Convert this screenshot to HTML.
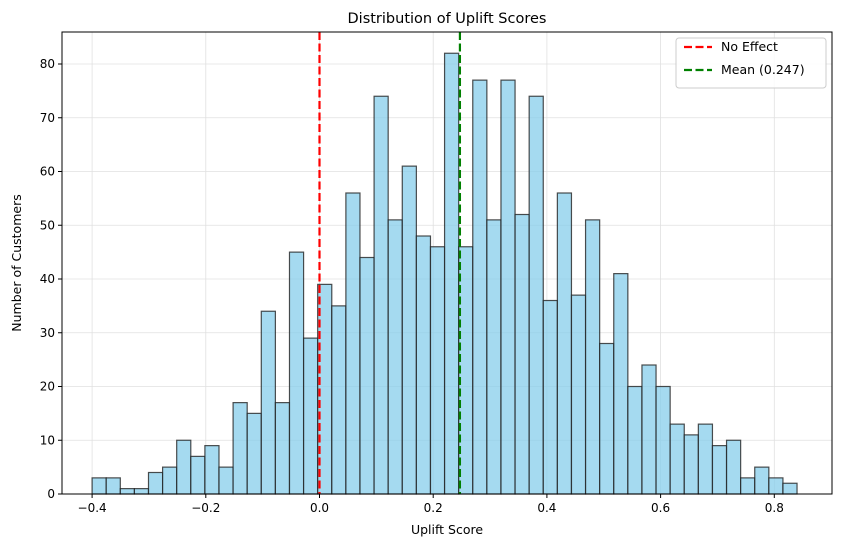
<!DOCTYPE html>
<html><head><meta charset="utf-8"><style>
body{margin:0;background:#fff;font-family:"Liberation Sans","DejaVu Sans",sans-serif;}
</style></head><body>
<svg id="chart" width="841" height="547" xmlns="http://www.w3.org/2000/svg" font-family="DejaVu Sans, Liberation Sans, sans-serif">
<rect width="841" height="547" fill="#fff"/>
<g id="grid"></g><g id="bars"></g><g id="lines"></g><g id="axes"></g>
</svg>
<script>
const counts=[3,3,1,1,4,5,10,7,9,5,17,15,34,17,45,29,39,35,56,44,74,51,61,48,46,82,46,77,51,77,52,74,36,56,37,51,28,41,20,24,20,13,11,13,9,10,3,5,3,2];
const binStart=-0.4, binEnd=0.84;
const xTicks=[-0.4,-0.2,0.0,0.2,0.4,0.6,0.8];
const xTickLabels=["−0.4","−0.2","0.0","0.2","0.4","0.6","0.8"];
const yTicks=[0,10,20,30,40,50,60,70,80];
const meanVal=0.247, noEffect=0;
const L=62,R=832,T=32,B=494;
const X=v=>319.5+568.5*v;
const Y=v=>B-v*(B-64)/80;
const NS="http://www.w3.org/2000/svg";
function mk(t,a,p){const e=document.createElementNS(NS,t);for(const k in a)e.setAttribute(k,a[k]);p.appendChild(e);return e;}
const g=document.getElementById('grid'),bg=document.getElementById('bars'),lg=document.getElementById('lines'),ax=document.getElementById('axes');
xTicks.forEach((v,i)=>{
 const l=mk('line',{x1:X(v),x2:X(v),y1:T,y2:B,stroke:'#e0e0e0','stroke-width':0.8},g);
 
 
 mk('line',{x1:X(v),x2:X(v),y1:B,y2:B+4,stroke:'#000'},ax);
 const t=mk('text',{x:X(v),y:B+18,'text-anchor':'middle','font-size':12},ax);t.textContent=xTickLabels[i];
 
 
});
yTicks.forEach(v=>{
 const l=mk('line',{x1:L,x2:R,y1:Y(v),y2:Y(v),stroke:'#e0e0e0','stroke-width':0.8},g);
 
 
 mk('line',{x1:L-4,x2:L,y1:Y(v),y2:Y(v),stroke:'#000'},ax);
 const t=mk('text',{x:L-7,y:Y(v)+4,'text-anchor':'end','font-size':12},ax);t.textContent=v;
 
 
});
const w=(binEnd-binStart)/counts.length;
counts.forEach((c,i)=>{
 const x0=X(binStart+i*w),x1=X(binStart+(i+1)*w);
 const r=mk('rect',{x:x0,y:Y(c),width:x1-x0,height:Y(0)-Y(c),fill:'#87ceeb','fill-opacity':0.75,stroke:'#222','stroke-opacity':0.8,'stroke-width':1.2},bg);
 
 
});
const l1=mk('line',{x1:X(noEffect),x2:X(noEffect),y1:T,y2:B,stroke:'#ff0000','stroke-width':2.2,'stroke-dasharray':'8,3.5'},lg);


const l2=mk('line',{x1:X(meanVal),x2:X(meanVal),y1:T,y2:B,stroke:'#008000','stroke-width':2.2,'stroke-dasharray':'8,3.5'},lg);


mk('rect',{x:L,y:T,width:R-L,height:B-T,fill:'none',stroke:'#000','stroke-width':1},ax);
const tt=mk('text',{x:(L+R)/2,y:23,'text-anchor':'middle','font-size':14.5},ax);tt.textContent='Distribution of Uplift Scores';


const xt=mk('text',{x:(L+R)/2,y:534,'text-anchor':'middle','font-size':12.5},ax);xt.textContent='Uplift Score';


const yt=mk('text',{x:0,y:0,'text-anchor':'middle','font-size':12.5,transform:'translate(21,263) rotate(-90)'},ax);yt.textContent='Number of Customers';


const leg=mk('g',{},ax);


mk('rect',{x:676,y:38,width:150,height:50,rx:3,fill:'#fff','fill-opacity':0.85,stroke:'#ccc'},leg);
[['No Effect','#ff0000',51],['Mean (0.247)','#008000',74]].forEach(([lab,col,y])=>{
 const ln=mk('line',{x1:684,x2:712,y1:y-4,y2:y-4,stroke:col,'stroke-width':2.2,'stroke-dasharray':'8,3.5'},leg);
 
 
 const t=mk('text',{x:721,y:y,'font-size':12.5},leg);t.textContent=lab;
 
 
});
</script>
</body></html>
